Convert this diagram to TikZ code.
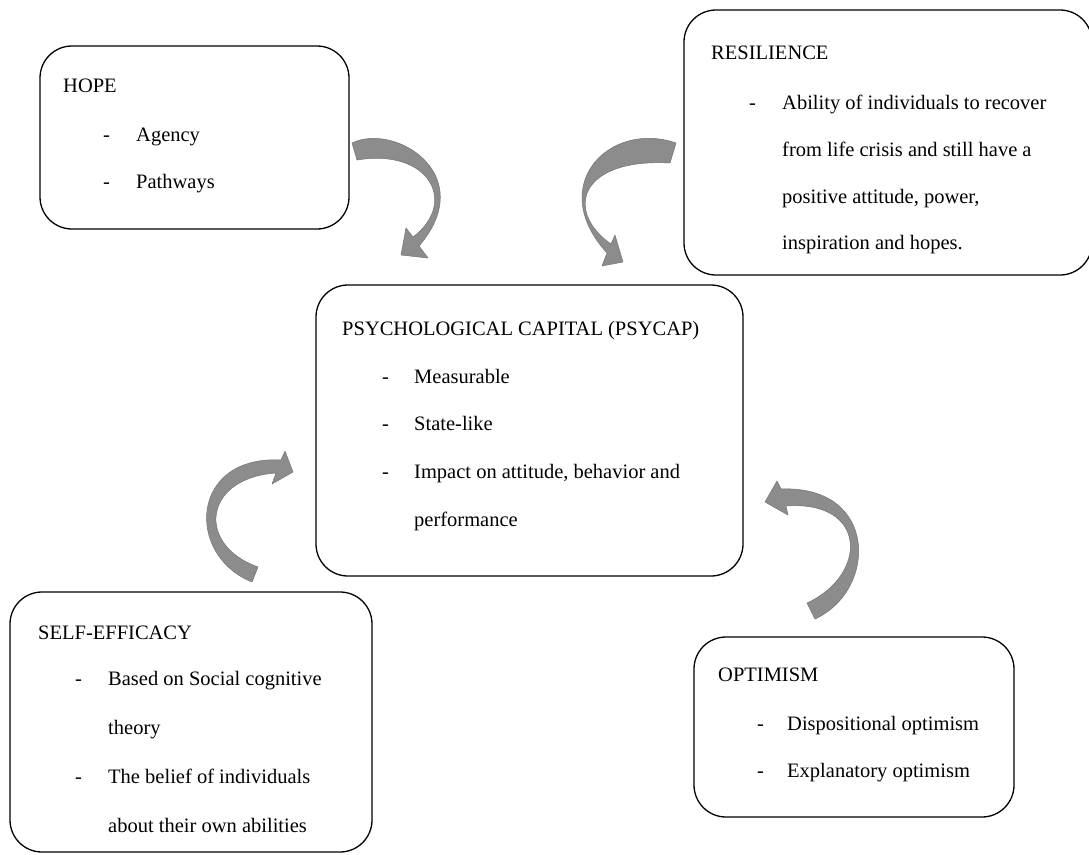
\documentclass[tikz,border=0pt]{standalone}
\usepackage{fontspec}
\setmainfont{Liberation Serif}
\usetikzlibrary{fit}
\definecolor{arrowgray}{RGB}{140,140,140}
\definecolor{arrowedge}{RGB}{115,115,115}
\begin{document}
\begin{tikzpicture}[x=1pt,y=-1pt,
  box/.style={draw=black,line width=1.3pt,rounded corners=32pt,inner sep=0pt},
  txt/.style={anchor=base west,inner sep=0pt,font=\fontsize{20.5}{24}\selectfont},
  bigarrow/.style={fill=arrowgray,draw=arrowedge,line width=0.5pt,line join=round}]
\useasboundingbox[fill=white] (0,0) rectangle (1089,854);

% boxes
\node[box,fit={(40,46) (349,229)}] (hope) {};
\node[box,fit={(684,10) (1092,275)}] (resilience) {};
\node[box,fit={(316,285) (743,576)}] (psycap) {};
\node[box,fit={(10,592) (372,852)}] (selfeff) {};
\node[box,fit={(694,637) (1014,817)}] (optimism) {};

% HOPE
\node[txt] (hope-t) at (63,92) {HOPE};
\node[txt] (hope-d1) at (103,141) {-};
\node[txt] (hope-1) at (136,141) {Agency};
\node[txt] (hope-d2) at (103,188) {-};
\node[txt] (hope-2) at (136,188) {Pathways};

% RESILIENCE
\node[txt] (res-t) at (711,59) {RESILIENCE};
\node[txt] (res-d1) at (749,109) {-};
\node[txt] (res-1) at (782,109) {Ability of individuals to recover};
\node[txt] (res-2) at (782,156) {from life crisis and still have a};
\node[txt] (res-3) at (782,203) {positive attitude, power,};
\node[txt] (res-4) at (782,249) {inspiration and hopes.};

% PSYCAP
\node[txt] (psy-t) at (342,335) {PSYCHOLOGICAL CAPITAL (PSYCAP)};
\node[txt] (psy-d1) at (382,383) {-};
\node[txt] (psy-1) at (414,383) {Measurable};
\node[txt] (psy-d2) at (382,430) {-};
\node[txt] (psy-2) at (414,430) {State-like};
\node[txt] (psy-d3) at (382,478) {-};
\node[txt] (psy-3) at (414,478) {Impact on attitude, behavior and};
\node[txt] (psy-4) at (414,526) {performance};

% SELF-EFFICACY
\node[txt] (se-t) at (38,639) {SELF-EFFICACY};
\node[txt] (se-d1) at (75,685) {-};
\node[txt] (se-1) at (108,685) {Based on Social cognitive};
\node[txt] (se-2) at (108,734) {theory};
\node[txt] (se-d2) at (75,783) {-};
\node[txt] (se-3) at (108,783) {The belief of individuals};
\node[txt] (se-4) at (108,832) {about their own abilities};

% OPTIMISM
\node[txt] (op-t) at (718,681) {OPTIMISM};
\node[txt] (op-d1) at (757,730) {-};
\node[txt] (op-1) at (787,730) {Dispositional optimism};
\node[txt] (op-d2) at (757,777) {-};
\node[txt] (op-2) at (787,777) {Explanatory optimism};

% curved block arrows
% hope -> psycap
\path[bigarrow] (352,143) .. controls (395,122) and (480,175) .. (419,246)
  -- (428,258) -- (401,255) -- (406,228) -- (413,237)
  .. controls (458,203) and (430,148) .. (357,160) -- cycle;
% resilience -> psycap
\path[bigarrow] (676,143) .. controls (610,120) and (545,185) .. (607,253)
  -- (602,266) -- (623,262) -- (615,235) -- (611,244)
  .. controls (565,212) and (578,158) .. (670,163) -- cycle;
% self-efficacy -> psycap
\path[bigarrow] (252,582) .. controls (185,555) and (190,455) .. (281,460)
  -- (285,451) -- (293,472) -- (272,484) -- (276,473)
  .. controls (203,478) and (196,545) .. (258,567) -- cycle;
% optimism -> psycap
\path[bigarrow] (815,619) .. controls (878,590) and (878,485) .. (781,489)
  -- (777,481) -- (765,502) -- (788,515) -- (786,506)
  .. controls (868,500) and (868,575) .. (807,603) -- cycle;
\end{tikzpicture}
\end{document}
